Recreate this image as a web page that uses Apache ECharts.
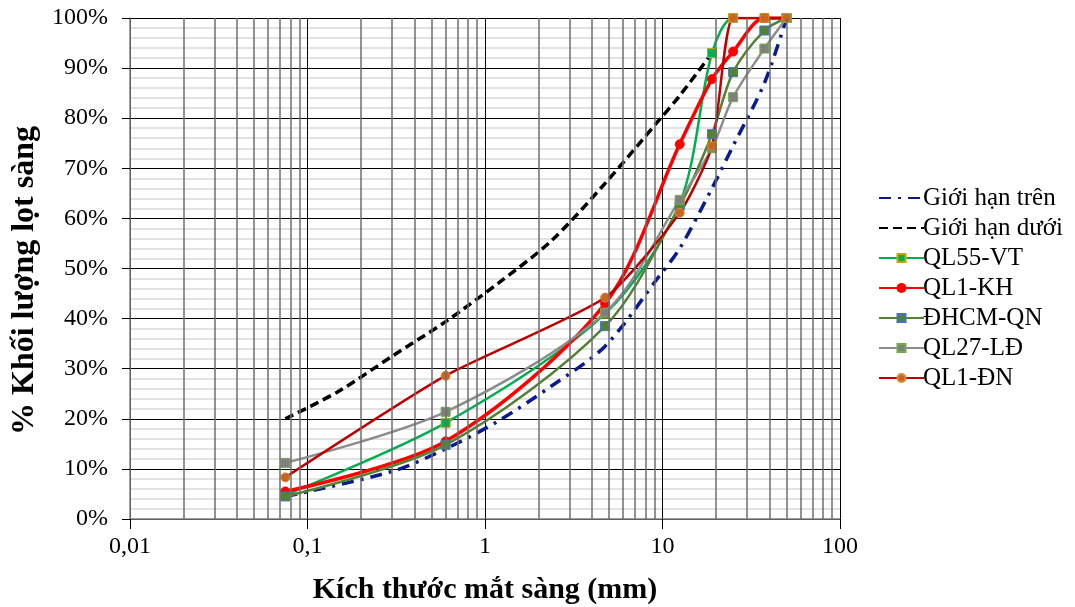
<!DOCTYPE html>
<html>
<head>
<meta charset="utf-8">
<script src="https://cdn.jsdelivr.net/npm/echarts@6/dist/echarts.min.js"></script>
<style>
  html, body { margin: 0; padding: 0; background: #fff; }
  #chart { width: 1075px; height: 607px; }
</style>
</head>
<body>
<div id="chart"></div>
<script>
// sieve sizes (mm) and % passing
const sieves = [0.075, 0.6, 4.75, 12.5, 19, 25, 37.5, 50]
const upperSieves = [0.075, 0.3, 0.6, 1.18, 2.36, 4.75, 9.5, 12.5, 19, 25, 37.5, 50]
const upperLimit = [4.5, 9.5, 14, 19.5, 26.5, 34.5, 48.3, 54, 66, 74.5, 87, 100]
const lowerSieves = [0.075, 0.15, 0.3, 0.6, 1.18, 2.36, 4.75, 9.5, 12.5, 19]
const lowerLimit = [20, 25.5, 32.5, 39.4, 47, 55.5, 67, 79.5, 84.5, 93]
const ql55vt = [4.8, 19.2, 41, 63, 93, 100, 100, 100]
const ql1kh = [5.5, 15.5, 43, 74.8, 87.8, 93.3, 100, 100]
const dhcmqn = [4.5, 14.8, 38.5, 62.5, 76.8, 89.2, 97.5, 100]
const ql27ld = [11.2, 21.4, 41.2, 63.7, 74, 84.2, 93.9, 100]
const ql1dn = [8.3, 28.6, 44.2, 61.1, 74.4, 100, 100, 100]
const minorX = [0.02, 0.03, 0.04, 0.05, 0.06, 0.07, 0.08, 0.09,
  0.2, 0.3, 0.4, 0.5, 0.6, 0.7, 0.8, 0.9,
  2, 3, 4, 5, 6, 7, 8, 9,
  20, 30, 40, 50, 60, 70, 80, 90]

const serif = 'Liberation Serif'
const pairs = (xs, ys) => xs.map((x, i) => [x, ys[i]])

const chart = echarts.init(document.getElementById('chart'))

const mkSeries = (name, data, color, width, symbol, fill, border, extra) => Object.assign({
  name,
  type: 'line',
  data,
  smooth: 0.3,
  symbol,
  symbolSize: 9,
  itemStyle: { color: fill, borderColor: border, borderWidth: 1 },
  lineStyle: { color, width },
  z: 3,
}, extra || {})

const options = {
  animation: false,
  backgroundColor: '#fff',
  textStyle: { fontFamily: serif },
  grid: { left: 130, right: 235, top: 18, bottom: 88, containLabel: false, outerBoundsMode: 'none' },
  legend: {
    orient: 'vertical',
    left: 873,
    top: 180,
    itemWidth: 45,
    itemHeight: 10,
    itemGap: 4,
    data: ['Giới hạn trên', 'Giới hạn dưới', 'QL55-VT', 'QL1-KH', 'ĐHCM-QN', 'QL27-LĐ', 'QL1-ĐN'],
    textStyle: { fontFamily: serif, fontSize: 25, color: '#000', padding: [0, 0, 0, -6], lineHeight: 26 },
  },
  xAxis: {
    type: 'log',
    logBase: 10,
    min: 0.01,
    max: 100,
    name: 'Kích thước mắt sàng (mm)',
    nameLocation: 'middle',
    nameGap: 56,
    nameTextStyle: { fontFamily: serif, fontSize: 30, fontWeight: 'bold', color: '#000' },
    axisLine: { lineStyle: { color: '#808080', width: 1.5 } },
    axisTick: { show: true, length: 10, lineStyle: { color: '#000' } },
    axisLabel: {
      fontFamily: serif, fontSize: 24, color: '#000', margin: 16,
      formatter: (v) => String(v).replace('.', ','),
    },
    splitLine: { show: true, lineStyle: { color: '#000', width: 1 } },
  },
  yAxis: {
    type: 'value',
    min: 0,
    max: 100,
    interval: 10,
    name: '% Khối lượng lọt sàng',
    nameLocation: 'middle',
    nameGap: 88,
    nameRotate: 90,
    nameTextStyle: { fontFamily: serif, fontSize: 32, fontWeight: 'bold', color: '#000', padding: [0, 24, 0, 0] },
    axisLine: { show: true, lineStyle: { color: '#808080', width: 1.5 } },
    axisTick: { show: true, length: 8, lineStyle: { color: '#000' } },
    axisLabel: { fontFamily: serif, fontSize: 24, color: '#000', margin: 22, formatter: '{value}%' },
    splitLine: { show: true, lineStyle: { color: '#000', width: 1 } },
    minorTick: { show: false, splitNumber: 5 },
    minorSplitLine: { show: true, lineStyle: { color: '#d9d9d9', width: 1.5 } },
  },
  series: [
    {
      name: 'grid',
      type: 'line',
      data: [],
      silent: true,
      z: 1,
      markLine: {
        silent: true,
        symbol: 'none',
        label: { show: false },
        animation: false,
        lineStyle: { color: '#6e6e6e', width: 1.5, type: 'solid' },
        data: minorX.map((v) => ({ xAxis: v })),
      },
    },
    mkSeries('Giới hạn trên', pairs(upperSieves, upperLimit), '#0a1a8f', 3.5, 'none', 'rgba(0,0,0,0)', 'rgba(0,0,0,0)',
      { lineStyle: { color: '#0a1a8f', width: 3.5, type: [12, 7, 3, 7] } }),
    mkSeries('Giới hạn dưới', pairs(lowerSieves, lowerLimit), '#000', 3.5, 'none', 'rgba(0,0,0,0)', 'rgba(0,0,0,0)',
      { lineStyle: { color: '#000', width: 3.5, type: [9, 5] } }),
    mkSeries('QL55-VT', pairs(sieves, ql55vt), '#00b050', 2.5, 'rect', '#00b050', '#c0a800'),
    mkSeries('QL1-KH', pairs(sieves, ql1kh), '#ff0000', 3.5, 'circle', '#ff0000', '#ff0000'),
    mkSeries('ĐHCM-QN', pairs(sieves, dhcmqn), '#548235', 2.5, 'rect', '#548235', '#4472c4'),
    mkSeries('QL27-LĐ', pairs(sieves, ql27ld), '#8c8c8c', 2.5, 'rect', '#7f7f7f', '#70ad47'),
    mkSeries('QL1-ĐN', pairs(sieves, ql1dn), '#c00000', 2.5, 'circle', '#c8651e', '#d9893f', { smooth: 0.2 }),
  ],
}

chart.setOption(options, true)
</script>
</body>
</html>
